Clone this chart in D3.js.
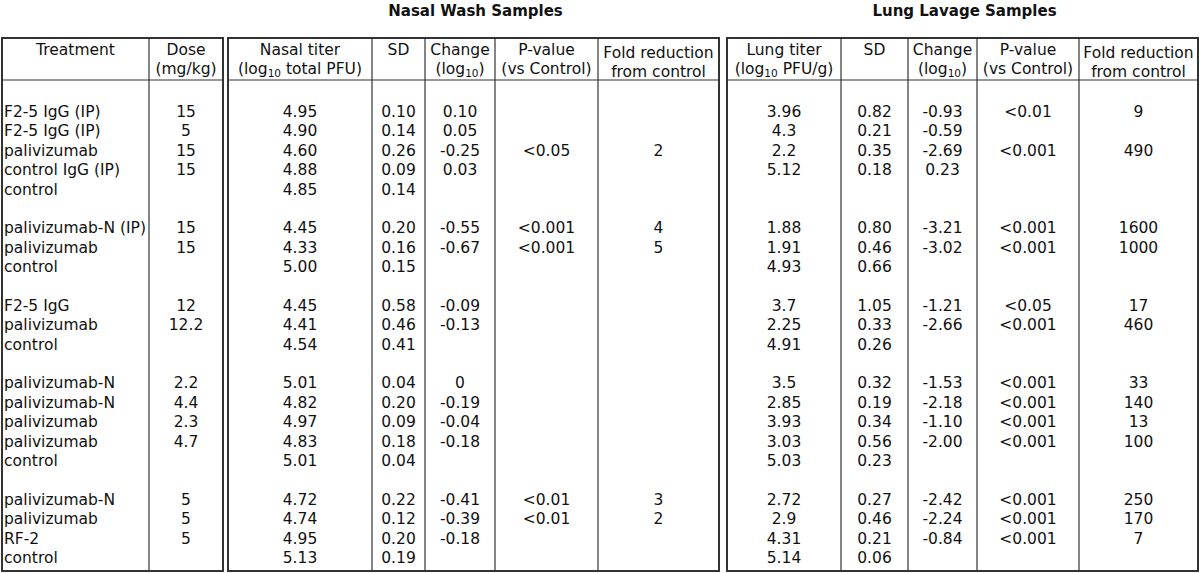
<!DOCTYPE html>
<html>
<head>
<meta charset="utf-8">
<script src="https://cdn.jsdelivr.net/npm/d3@7/dist/d3.min.js"></script>
<style>
  body { margin: 0; background: #fff; }
  text { font-family: "DejaVu Sans", Verdana, sans-serif; fill: #111; }
</style>
</head>
<body>
<div id="chart"></div>
<script>
// ---------- Data ----------
const groupOf      = [0,0,0,0,0, 1,1,1, 2,2,2, 3,3,3,3,3, 4,4,4,4];
const treatment    = ["F2-5 IgG (IP)", "F2-5 IgG (IP)", "palivizumab", "control IgG (IP)", "control",
                      "palivizumab-N (IP)", "palivizumab", "control",
                      "F2-5 IgG", "palivizumab", "control",
                      "palivizumab-N", "palivizumab-N", "palivizumab", "palivizumab", "control",
                      "palivizumab-N", "palivizumab", "RF-2", "control"];
const dose         = ["15","5","15","15","", "15","15","", "12","12.2","", "2.2","4.4","2.3","4.7","", "5","5","5",""];
const nasalTiter   = ["4.95","4.90","4.60","4.88","4.85", "4.45","4.33","5.00", "4.45","4.41","4.54",
                      "5.01","4.82","4.97","4.83","5.01", "4.72","4.74","4.95","5.13"];
const nasalSD      = ["0.10","0.14","0.26","0.09","0.14", "0.20","0.16","0.15", "0.58","0.46","0.41",
                      "0.04","0.20","0.09","0.18","0.04", "0.22","0.12","0.20","0.19"];
const nasalChange  = ["0.10","0.05","-0.25","0.03","", "-0.55","-0.67","", "-0.09","-0.13","",
                      "0","-0.19","-0.04","-0.18","", "-0.41","-0.39","-0.18",""];
const nasalP       = ["","","<0.05","","", "<0.001","<0.001","", "","","", "","","","","", "<0.01","<0.01","",""];
const nasalFold    = ["","","2","","", "4","5","", "","","", "","","","","", "3","2","",""];
const lungTiter    = ["3.96","4.3","2.2","5.12","", "1.88","1.91","4.93", "3.7","2.25","4.91",
                      "3.5","2.85","3.93","3.03","5.03", "2.72","2.9","4.31","5.14"];
const lungSD       = ["0.82","0.21","0.35","0.18","", "0.80","0.46","0.66", "1.05","0.33","0.26",
                      "0.32","0.19","0.34","0.56","0.23", "0.27","0.46","0.21","0.06"];
const lungChange   = ["-0.93","-0.59","-2.69","0.23","", "-3.21","-3.02","", "-1.21","-2.66","",
                      "-1.53","-2.18","-1.10","-2.00","", "-2.42","-2.24","-0.84",""];
const lungP        = ["<0.01","","<0.001","","", "<0.001","<0.001","", "<0.05","<0.001","",
                      "<0.001","<0.001","<0.001","<0.001","", "<0.001","<0.001","<0.001",""];
const lungFold     = ["9","","490","","", "1600","1000","", "17","460","",
                      "33","140","13","100","", "250","170","7",""];

// ---------- Layout ----------
const width = 1200, height = 573;
const gridTop = 38, headBottom = 80, gridBottom = 571;

// tables: [left, ...inner column lines..., right]
const tables = [
  [2, 149, 223],
  [228, 372, 425, 495, 598, 719],
  [727, 841, 908, 977, 1079, 1198]
];

// columns: values, header lines, alignment
const columns = [
  {t: 0, c: 0, values: treatment,   head: [["Treatment"]], align: "start"},
  {t: 0, c: 1, values: dose,        head: [["Dose"], ["(mg/kg)"]]},
  {t: 1, c: 0, values: nasalTiter,  head: [["Nasal titer"], ["(log", "10", " total PFU)"]]},
  {t: 1, c: 1, values: nasalSD,     head: [["SD"]]},
  {t: 1, c: 2, values: nasalChange, head: [["Change"], ["(log", "10", ")"]]},
  {t: 1, c: 3, values: nasalP,      head: [["P-value"], ["(vs Control)"]]},
  {t: 1, c: 4, values: nasalFold,   head: [["Fold reduction"], ["from control"]], drop: 3},
  {t: 2, c: 0, values: lungTiter,   head: [["Lung titer"], ["(log", "10", " PFU/g)"]]},
  {t: 2, c: 1, values: lungSD,      head: [["SD"]]},
  {t: 2, c: 2, values: lungChange,  head: [["Change"], ["(log", "10", ")"]]},
  {t: 2, c: 3, values: lungP,       head: [["P-value"], ["(vs Control)"]]},
  {t: 2, c: 4, values: lungFold,    head: [["Fold reduction"], ["from control"]], drop: 3}
];

const titles = [
  {text: "Nasal Wash Samples", t: 1},
  {text: "Lung Lavage Samples", t: 2}
];

const svg = d3.select("#chart")
  .append("svg")
  .attr("width", width)
  .attr("height", height);

// row scale: data rows plus one blank row between groups
const nRows = treatment.length + d3.max(groupOf);
const y = d3.scaleLinear()
  .domain([0, nRows - 1])
  .range([112, 558]);

const fontSize = 15.5;

// ---------- Grid ----------
tables.forEach(function(edges) {
  const l = edges[0], r = edges[edges.length - 1];
  // outer box
  svg.append("rect")
    .attr("x", l).attr("y", gridTop)
    .attr("width", r - l).attr("height", gridBottom - gridTop)
    .attr("fill", "none")
    .attr("stroke", "#333")
    .attr("stroke-width", 2);
  // header rule
  svg.append("line")
    .attr("x1", l).attr("x2", r)
    .attr("y1", headBottom).attr("y2", headBottom)
    .attr("stroke", "#333").attr("stroke-width", 1.2);
  // inner column lines
  edges.slice(1, -1).forEach(function(x) {
    svg.append("line")
      .attr("x1", x).attr("x2", x)
      .attr("y1", gridTop).attr("y2", gridBottom)
      .attr("stroke", "#333").attr("stroke-width", 1.2);
  });
});

// ---------- Titles ----------
titles.forEach(function(d) {
  const e = tables[d.t];
  svg.append("text")
    .attr("x", (e[0] + e[e.length - 1]) / 2 + 2)
    .attr("y", 16)
    .attr("text-anchor", "middle")
    .style("font-size", "15px")
    .style("font-weight", "bold")
    .text(d.text);
});

// ---------- Headers + cells ----------
columns.forEach(function(col) {
  const e = tables[col.t];
  const x0 = e[col.c], x1 = e[col.c + 1];
  const cx = (x0 + x1) / 2;
  const drop = col.drop || 0;

  col.head.forEach(function(parts, li) {
    const txt = svg.append("text")
      .attr("x", cx)
      .attr("y", 55 + li * 19 + drop)
      .attr("text-anchor", "middle")
      .style("font-size", fontSize + "px");
    parts.forEach(function(p, pi) {
      const ts = txt.append("tspan").text(p);
      if (parts.length === 3 && pi === 1) {
        ts.style("font-size", "10.5px").attr("dy", 3);
      } else if (parts.length === 3 && pi === 2) {
        ts.attr("dy", -3);
      }
    });
  });

  const cells = svg.append("g");
  cells.selectAll("text")
    .data(col.values)
    .enter()
    .append("text")
    .attr("x", col.align === "start" ? x0 + 2 : cx)
    .attr("y", function(d, i) { return y(i + groupOf[i]) + 5; })
    .attr("text-anchor", col.align || "middle")
    .style("font-size", fontSize + "px")
    .text(function(d) { return d; });
});
</script>
</body>
</html>
